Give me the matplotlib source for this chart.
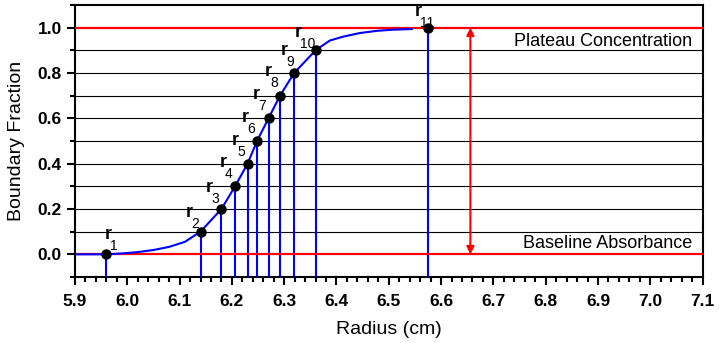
import matplotlib.pyplot as plt
import numpy as np

plt.rcParams['font.family'] = ['Liberation Sans', 'DejaVu Sans']

# radius of each boundary point r1..r11 and its boundary fraction
r_radius = [5.960, 6.140, 6.180, 6.206, 6.230, 6.248, 6.270, 6.292, 6.319, 6.360, 6.575]
r_fraction = [0.0, 0.1, 0.2, 0.3, 0.4, 0.5, 0.6, 0.7, 0.8, 0.9, 1.0]
r_names = ['1', '2', '3', '4', '5', '6', '7', '8', '9', '10', '11']

# traced boundary curve
curve_x = [5.90, 5.96, 5.99, 6.02, 6.05, 6.08, 6.11, 6.14, 6.18, 6.206, 6.23,
           6.248, 6.27, 6.292, 6.319, 6.36, 6.387, 6.412, 6.444, 6.477, 6.507, 6.544]
curve_y = [0.0, 0.0, 0.004, 0.010, 0.019, 0.033, 0.055, 0.1, 0.2, 0.3, 0.4,
           0.5, 0.6, 0.7, 0.8, 0.9, 0.943, 0.960, 0.976, 0.986, 0.991, 0.994]

baseline = 0.0
plateau = 1.0
arrow_x = 6.656

# label offsets in pixels (x, y up) for the "r" letters
label_offsets = [(1.6, 15.5), (-11.4, 14.7), (-11.7, 17.4), (-12, 19.2), (-12.3, 18.8),
                 (-11.6, 19.2), (-12.3, 19.8), (-11.7, 19.8), (-10, 18.2), (-17.7, 12.9),
                 (-9.6, 12.1)]

fig = plt.figure(figsize=(7.19, 3.43), dpi=100)
ax = fig.add_axes([0.1043, 0.1924, 0.8729, 0.7930])

ax.set_xlim(5.9, 7.1)
ax.set_ylim(-0.1, 1.1)

# horizontal guide lines
for yv in np.arange(1, 10) / 10:
    ax.axhline(yv, color='black', lw=0.8, zorder=1)

ax.axhline(baseline, color='red', lw=1.6, zorder=4)
ax.axhline(plateau, color='red', lw=1.6, zorder=4)

# drop lines from each point to the axis
ax.vlines(r_radius, -0.1, r_fraction, color='blue', lw=1.5, zorder=3)
ax.plot(curve_x, curve_y, color='blue', lw=1.5, zorder=5)
ax.plot(r_radius, r_fraction, 'o', color='black', ms=6.5, zorder=6)

for xr, yr, name, (dx, dy) in zip(r_radius, r_fraction, r_names, label_offsets):
    ax.annotate('r', (xr, yr), xytext=(dx, dy), textcoords='offset pixels',
                ha='center', va='baseline', fontsize=13, fontweight='bold', zorder=7)
    ax.annotate(name, (xr, yr), xytext=(dx + 2, dy - 11), textcoords='offset pixels',
                ha='left', va='baseline', fontsize=10, zorder=7)

ax.annotate('', xy=(arrow_x, plateau), xytext=(arrow_x, baseline),
            arrowprops=dict(arrowstyle='<|-|>', color='red', lw=1.5,
                            mutation_scale=11, shrinkA=0, shrinkB=0), zorder=4)

ax.text(7.08, 0.94, 'Plateau Concentration', ha='right', va='center', fontsize=13)
ax.text(7.08, 0.047, 'Baseline Absorbance', ha='right', va='center', fontsize=13)

ax.set_xticks(np.arange(5.9, 7.101, 0.1))
ax.set_xticklabels(['%.1f' % v for v in np.arange(5.9, 7.101, 0.1)])
ax.set_xticks(np.arange(5.9, 7.101, 0.02), minor=True)
ax.set_yticks([0.0, 0.2, 0.4, 0.6, 0.8, 1.0])
ax.set_yticklabels(['0.0', '0.2', '0.4', '0.6', '0.8', '1.0'])
ax.set_yticks(np.arange(-0.1, 1.101, 0.1), minor=True)

ax.tick_params(which='both', direction='out', width=1.5, labelsize=12.5, top=False, right=False)
ax.tick_params(which='major', length=6)
ax.tick_params(which='minor', length=3.5)
ax.tick_params(axis='x', pad=6)
for lab in ax.get_xticklabels() + ax.get_yticklabels():
    lab.set_fontweight('bold')

for s in ax.spines.values():
    s.set_linewidth(1.5)

ax.set_xlabel('Radius (cm)', fontsize=14, labelpad=9)
ax.set_ylabel('Boundary Fraction', fontsize=14, labelpad=9)

fig.savefig('out.png', dpi=100)
